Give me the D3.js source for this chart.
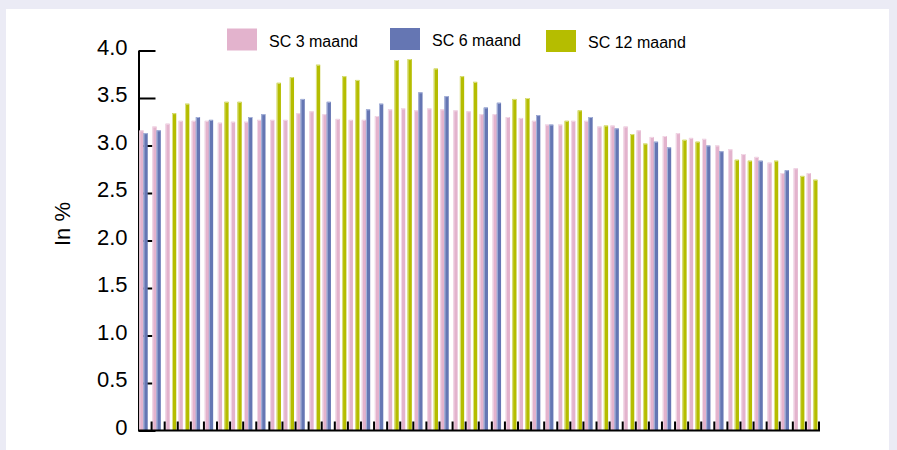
<!DOCTYPE html>
<html>
<head>
<meta charset="utf-8">
<script src="https://cdn.jsdelivr.net/npm/d3@7"></script>
<style>
  html, body { margin: 0; padding: 0; background: #ffffff; }
  svg { display: block; }
  text { font-family: "Liberation Sans", Arial, sans-serif; fill: #000; }
</style>
</head>
<body>
<div id="chart"></div>
<script>
// ---- data ----
const categories = d3.range(1, 53).map(String);
const sc3 = [3.16,3.20,3.23,3.26,3.26,3.26,3.24,3.25,3.25,3.27,3.27,3.27,3.34,3.36,3.33,3.28,3.27,3.27,3.31,3.38,
             3.39,3.37,3.39,3.38,3.37,3.36,3.33,3.33,3.30,3.29,3.26,3.22,3.22,3.26,3.26,3.20,3.21,3.20,3.16,3.09,
             3.10,3.13,3.08,3.07,3.00,2.96,2.91,2.88,2.82,2.71,2.76,2.71];
const sc6 = [3.13,3.16,null,null,3.30,3.27,null,null,3.30,3.33,null,null,3.49,null,3.46,null,null,3.38,3.44,null,
             null,3.56,null,3.52,null,null,3.40,3.45,null,null,3.32,3.22,null,null,3.30,null,3.18,null,null,3.04,
             2.98,null,null,3.00,2.94,null,null,2.84,null,2.74,null,null];
const sc12 = [null,null,3.34,3.44,null,null,3.46,3.46,null,null,3.66,3.72,null,3.85,null,3.73,3.69,null,null,3.90,
              3.91,null,3.81,null,3.73,3.67,null,null,3.49,3.50,null,null,3.26,3.37,null,3.21,null,3.12,3.02,null,
              null,3.06,3.04,null,null,2.85,2.84,null,2.84,null,2.68,2.64];
const seriesNames = ["SC 3 maand", "SC 6 maand", "SC 12 maand"];
const yTicks = [0, 0.5, 1.0, 1.5, 2.0, 2.5, 3.0, 3.5, 4.0];

// ---- layout ----
const W = 897, H = 450;
const colors = ["#e3b3cd", "#6576b3", "#b5bd00"];
const edge = ["#f3dbe8", "#aab6dc", "#dde38a"];

const svg = d3.select("#chart").append("svg").attr("width", W).attr("height", H);
svg.append("rect").attr("width", W).attr("height", H).attr("fill", "#ebebf5");
svg.append("rect").attr("x", 6).attr("y", 9).attr("width", 883).attr("height", H - 9).attr("fill", "#ffffff");

const x = d3.scaleBand().domain(categories).range([138.5, 819]).paddingInner(0).paddingOuter(0);
const y = d3.scaleLinear().domain([0, 4]).range([430.5, 50.5]);
const bw = x.bandwidth();

// y axis (ticks to the right, behind bars)
const yAxis = d3.axisLeft(y).tickValues(yTicks).tickSizeInner(-17).tickSizeOuter(0).tickPadding(11)
  .tickFormat(d => d === 0 ? "0" : d3.format(".1f")(d));
const gy = svg.append("g").attr("transform", "translate(138.5,0)").call(yAxis);
gy.select(".domain").attr("stroke", "#000").attr("stroke-width", 2);
gy.selectAll(".tick line").attr("stroke", "#000").attr("stroke-width", 2);
gy.selectAll(".tick text").attr("font-size", 22).attr("dy", "0.18em").style("font-family", "'Liberation Sans', Arial, sans-serif");

// bars
const offsets = [0.06, 0.38, 0.56]; // fraction of band where each series bar starts
const barW = 0.325;
const allSeries = [sc3, sc6, sc12];
allSeries.forEach((vals, si) => {
  const data = categories.map((c, i) => ({ c, v: vals[i] })).filter(d => d.v != null);
  const g = svg.append("g");
  g.selectAll("rect").data(data).join("rect")
    .attr("x", d => x(d.c) + offsets[si] * bw)
    .attr("y", d => y(d.v))
    .attr("width", barW * bw)
    .attr("height", d => y(0) - y(d.v))
    .attr("fill", colors[si]);
  // light edge highlight on left and top
  g.selectAll("path").data(data).join("path")
    .attr("d", d => {
      const x0 = x(d.c) + offsets[si] * bw + 0.5, y0 = y(d.v) + 0.5;
      return `M${x0},${y(0)}V${y0}H${x0 + barW * bw - 1}`;
    })
    .attr("fill", "none").attr("stroke", edge[si]).attr("stroke-width", 1);
});

// x axis baseline and ticks on top
svg.append("line").attr("x1", 138.5).attr("x2", 820).attr("y1", y(0)).attr("y2", y(0))
  .attr("stroke", "#000").attr("stroke-width", 2);
const tickPos = categories.slice(1).map(c => x(c)).concat([x.range()[1]]);
svg.append("g").selectAll("line").data(tickPos).join("line")
  .attr("x1", d => d).attr("x2", d => d)
  .attr("y1", y(0)).attr("y2", y(0) - 9)
  .attr("stroke", "#000").attr("stroke-width", 2);

// y title
svg.append("text").attr("transform", "translate(70,224) rotate(-90)")
  .attr("text-anchor", "middle").attr("font-size", 22).text("In %");

// legend
const legX = [227, 390, 546];
const legDy = [0, -0.5, 1.5];
seriesNames.forEach((name, i) => {
  svg.append("rect").attr("x", legX[i]).attr("y", 28.5 + legDy[i]).attr("width", 30).attr("height", 22)
    .attr("fill", colors[i]);
  svg.append("text").attr("x", legX[i] + 42).attr("y", 46.5 + legDy[i])
    .attr("font-size", 16).text(name);
});
</script>
</body>
</html>
